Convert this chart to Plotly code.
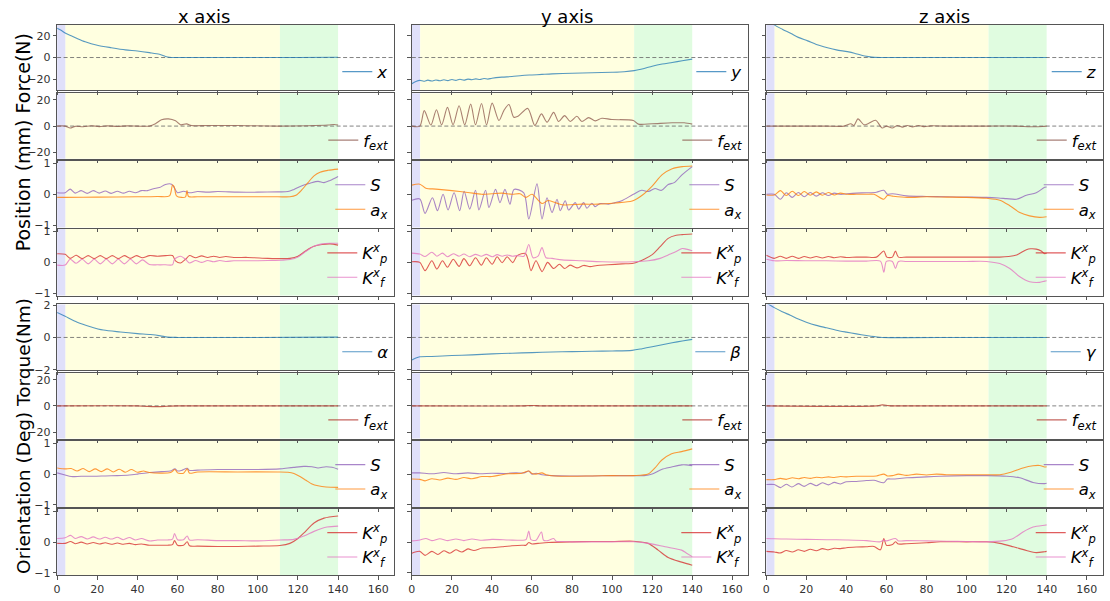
import plotly.graph_objects as go

# ======================= DATA =======================
PHASE_EDGES = [0, 4.2, 111, 140]          # blue | yellow | green phases
X_RANGE = [0, 168]
X_TICKS = [0, 20, 40, 60, 80, 100, 120, 140, 160]
COL_TITLES = ["x axis", "y axis", "z axis"]

ROW_YRANGE = [[-30.2, 30.2], [-25, 25], [-1.08, 1.08], [-1.08, 1.08],
              [-2.05, 2.05], [-25, 25], [-1.08, 1.08], [-1.08, 1.08]]
ROW_YTICKS = [[-20, 0, 20], [-20, 0, 20], [-1, 0, 1], [-1, 0, 1],
              [-2, 0, 2], [-20, 0, 20], [-1, 0, 1], [-1, 0, 1]]
ROW_ZERO = [True, True, False, False, True, True, False, False]

# ---- column x ----
x_pos_t = [0, 2, 4, 7, 10, 14, 20, 27, 34, 40, 46, 51, 54, 56, 60, 80, 100, 120, 140]
x_pos = [27, 25, 22.5, 20, 17.5, 14.5, 11.3, 9, 7, 6, 4.5, 3, 1, 0.2, 0, 0, 0, 0, 0.2]
x_fext_t = [0, 4, 6.5, 9, 13, 17, 21, 25, 30, 35, 40, 46, 49, 52, 55.5, 59, 61.5, 64.5, 67, 75, 90, 110, 125, 135, 138, 140]
x_fext = [0, 0, -1.5, -0.2, -0.5, 0.3, -0.4, 0.2, -0.3, 0.2, 0, 0, 1.8, 4.8, 5.5, 4, 1, 1.7, 0.4, 0.5, 0.4, 0, 0.3, 0.8, 1.2, 0.8]
x_S_t = [0, 4, 6.5, 9, 12, 15, 18, 21, 24, 27, 30, 33, 36, 39, 42, 45, 48, 51, 54, 57, 58.5, 60, 63, 66, 70, 75, 80, 90, 100, 110, 115, 118, 122, 126, 130, 133, 136, 140]
x_S = [0.05, 0.05, 0.17, 0.04, 0.12, 0.03, 0.12, 0.04, 0.11, 0.03, 0.1, 0.04, 0.1, 0.05, 0.12, 0.12, 0.18, 0.22, 0.32, 0.33, 0.2, 0.05, 0.1, 0.05, 0.09, 0.07, 0.09, 0.07, 0.07, 0.08, 0.09, 0.16, 0.28, 0.36, 0.42, 0.38, 0.45, 0.58]
x_ax_t = [0, 4, 20, 40, 50, 56, 57.5, 58.3, 59.5, 62, 64, 64.7, 65.5, 70, 90, 110, 116, 119, 122, 125, 128, 131, 135, 140]
x_ax = [-0.1, -0.1, -0.09, -0.08, -0.07, -0.05, 0.3, 0.25, -0.05, -0.1, -0.08, 0.12, -0.07, -0.08, -0.08, -0.08, -0.08, -0.03, 0.15, 0.38, 0.6, 0.72, 0.78, 0.82]
x_Kp_t = [0, 4, 6.5, 9.5, 12.5, 15.5, 18.5, 21.5, 24.5, 27.5, 30.5, 33.5, 36.5, 39.5, 42.5, 46, 50, 54, 57.5, 59, 61.5, 64, 66, 69, 72, 75, 78, 81, 84, 88, 95, 105, 112, 116, 120, 124, 128, 132, 136, 140]
x_Kp = [0.28, 0.26, 0.13, 0.23, 0.12, 0.22, 0.12, 0.22, 0.12, 0.22, 0.12, 0.22, 0.13, 0.22, 0.15, 0.22, 0.2, 0.22, 0.22, 0.05, -0.02, 0.1, 0.22, 0.15, 0.21, 0.16, 0.2, 0.16, 0.19, 0.16, 0.16, 0.13, 0.12, 0.13, 0.2, 0.38, 0.52, 0.58, 0.6, 0.56]
x_Kf_t = [0, 4, 6.5, 9.5, 12.5, 15.5, 18.5, 21.5, 24.5, 27.5, 30.5, 33.5, 36.5, 39.5, 42.5, 46, 50, 54, 57.5, 58.5, 61.5, 64, 66, 69, 72, 75, 78, 81, 84, 88, 95, 105, 112, 116, 120, 124, 128, 132, 136, 140]
x_Kf = [-0.09, -0.09, 0.1, -0.03, 0.1, -0.05, 0.1, -0.05, 0.1, -0.05, 0.1, -0.05, 0.1, -0.05, 0.08, -0.07, -0.08, -0.08, -0.08, 0.1, 0.2, 0.1, -0.02, 0.06, 0.0, 0.06, 0.02, 0.06, 0.03, 0.05, 0.05, 0.06, 0.07, 0.09, 0.17, 0.36, 0.52, 0.6, 0.62, 0.62]
x_ori_t = [0, 4, 10, 16.6, 23, 31.5, 40, 46.5, 51.5, 55, 60, 100, 140]
x_ori = [1.55, 1.31, 0.95, 0.67, 0.46, 0.34, 0.24, 0.18, 0.1, 0.02, 0, 0, 0.02]
x_tq_t = [0, 40, 45, 50, 55, 60, 140]
x_tq = [0, 0, -0.4, -0.6, -0.3, 0, 0]
x_oS_t = [0, 4, 7, 12, 18, 24, 30, 36, 40, 46, 52, 56.5, 58.7, 60, 62, 64.8, 66, 70, 80, 100, 111, 115, 118, 123, 127, 130, 134, 137, 140]
x_oS = [0.04, -0.03, -0.08, -0.07, -0.07, -0.06, -0.05, -0.03, 0.0, 0.05, 0.08, 0.1, 0.17, 0.1, 0.12, 0.19, 0.12, 0.13, 0.15, 0.15, 0.17, 0.2, 0.22, 0.25, 0.24, 0.2, 0.24, 0.22, 0.16]
x_oax_t = [0, 4, 7, 10, 13, 16, 19, 22, 25, 28, 31, 34, 37, 40, 43, 46, 56.5, 58.7, 60, 63, 64.8, 66, 70, 90, 110, 115, 118, 121, 124, 127, 130, 134, 140]
x_oax = [0.2, 0.17, 0.18, 0.1, 0.18, 0.08, 0.17, 0.08, 0.17, 0.07, 0.16, 0.06, 0.15, 0.06, 0.1, 0.05, 0.05, 0.15, 0.04, 0.03, 0.17, 0.03, 0.07, 0.07, 0.07, 0.06, 0.02, -0.08, -0.2, -0.32, -0.38, -0.42, -0.43]
x_oKp_t = [0, 4, 6.7, 9, 12, 15, 18, 21, 24, 27, 30, 33, 36, 39, 42, 46, 50, 55, 57.5, 58.5, 60, 63, 64.8, 66, 70, 80, 90, 100, 111, 116, 120, 123, 128, 133, 140]
x_oKp = [-0.04, -0.04, 0.02, -0.05, 0.0, -0.06, -0.01, -0.06, -0.02, -0.07, -0.03, -0.07, -0.04, -0.08, -0.06, -0.1, -0.1, -0.1, -0.08, 0.05, -0.1, -0.1, 0.01, -0.12, -0.13, -0.14, -0.14, -0.13, -0.11, -0.04, 0.12, 0.3, 0.62, 0.78, 0.85]
x_oKf_t = [0, 4, 6.7, 9, 12, 15, 18, 21, 24, 27, 30, 33, 36, 39, 42, 46, 50, 55, 57.5, 58.5, 60, 63, 64.8, 66, 70, 80, 90, 100, 111, 118, 123, 128, 134.5, 140]
x_oKf = [0.12, 0.14, 0.22, 0.12, 0.18, 0.1, 0.17, 0.1, 0.16, 0.1, 0.16, 0.08, 0.15, 0.07, 0.12, 0.04, 0.07, 0.07, 0.1, 0.28, 0.08, 0.08, 0.2, 0.07, 0.08, 0.05, 0.05, 0.04, 0.07, 0.09, 0.2, 0.35, 0.49, 0.52]

# ---- column y ----
y_pos_t = [0, 2, 4, 6, 8, 10, 12, 14, 16, 18, 20, 22, 24, 26, 28, 30, 32, 34, 36, 38, 40, 45, 50, 55, 60, 65, 70, 80, 90, 100, 106, 111, 116, 120, 125, 130, 135, 140]
y_pos = [-24, -22, -21, -21.8, -20.8, -21.6, -20.6, -21.4, -20.4, -21.2, -20.2, -21, -20, -20.8, -19.8, -20.4, -19.6, -20.2, -19.3, -19.8, -19, -18, -17.5, -16.5, -16, -15.5, -15, -14.5, -14, -13.5, -13, -12, -10, -8, -6, -4.5, -3, -1.5]
y_fext_t = [0, 4, 6.2, 9.5, 12.3, 14.9, 17.8, 20.6, 23.6, 26.4, 29.4, 31.8, 34.8, 37.3, 40.1, 43.5, 46, 48.5, 50.9, 53, 57.9, 61.4, 64.7, 67.5, 70.8, 73.3, 76.3, 79.1, 82.4, 84.9, 88.3, 91.6, 94.9, 99.9, 110.6, 113.1, 120, 130, 136, 140]
y_fext = [0, 0, 11.8, 0.8, 12.5, 1, 14.3, 1, 15.5, 1, 16.8, 1, 17.3, 1, 17.5, 4.3, 12, 16.5, 6.8, 7.5, 13.5, 0.5, 9.3, 3, 10.5, 3.5, 8, 3.5, 7.5, 3.5, 6.5, 4, 6, 5, 4.3, 1.5, 1.8, 2.5, 2.5, 1.5]
y_S_t = [0, 4, 6.6, 10.3, 12.8, 15.6, 18.1, 21.1, 23.9, 26.1, 28.9, 31.8, 33.5, 36.8, 38.5, 41.8, 44, 46.5, 49, 51, 55.9, 58.4, 62.5, 65, 67.5, 70, 72.5, 74.1, 76.6, 78.3, 81.6, 83.3, 85.8, 87.4, 89.9, 91.5, 94, 98.2, 101.5, 104.8, 110.6, 114.8, 118.1, 121.4, 124.7, 128, 131, 135, 140]
y_S = [-0.19, -0.15, -0.62, -0.11, -0.53, 0.0, -0.51, 0.05, -0.53, 0.1, -0.48, 0.13, -0.51, 0.13, -0.43, 0.16, -0.27, 0.16, -0.32, 0.16, 0.05, -0.8, 0.34, -0.8, -0.11, -0.59, -0.16, -0.53, -0.21, -0.51, -0.27, -0.48, -0.27, -0.45, -0.29, -0.4, -0.3, -0.32, -0.27, -0.21, 0.0, 0.13, 0.09, 0.19, 0.13, 0.32, 0.38, 0.64, 0.9]
y_ax_t = [0, 4, 7, 12, 20, 28, 35, 40, 45, 50, 54, 57, 60, 65, 68, 75, 85, 93, 101.5, 110, 115, 120, 125, 130, 135, 140]
y_ax = [0.3, 0.33, 0.2, 0.17, 0.12, 0.06, 0.0, 0.02, 0.04, 0.0, 0.02, -0.1, 0.0, -0.3, -0.2, -0.34, -0.32, -0.32, -0.28, -0.22, -0.03, 0.27, 0.64, 0.83, 0.9, 0.92]
y_Kp_t = [0, 4, 6.6, 10, 12.5, 15.3, 17.8, 20.7, 23.6, 26, 28.9, 31.8, 34.7, 37.2, 40.1, 42.6, 45.1, 47.6, 50.4, 52.6, 56.7, 58, 59.5, 62, 65, 67.8, 70.8, 73.7, 76.3, 79, 82.4, 85.8, 89, 92.5, 98, 105, 110.6, 116, 120, 124, 128, 132, 135, 140]
y_Kp = [0.02, 0.0, -0.27, 0.05, -0.22, 0.05, -0.16, 0.1, -0.13, 0.12, -0.11, 0.15, -0.09, 0.15, -0.06, 0.18, -0.01, 0.18, -0.01, 0.22, 0.29, 0.1, -0.27, 0.05, -0.3, 0.0, -0.2, -0.06, -0.2, -0.09, -0.18, -0.1, -0.14, -0.1, -0.08, -0.05, -0.03, 0.1, 0.25, 0.51, 0.78, 0.88, 0.9, 0.92]
y_Kf_t = [0, 4, 6.6, 10, 12.5, 15.3, 17.8, 20.7, 23.6, 26, 28.9, 31.8, 34.7, 37.2, 40.1, 42.6, 45.1, 47.6, 50.4, 52.6, 56, 58.4, 60.5, 63, 65, 67, 70, 75, 85, 95, 110.6, 118, 124, 128, 132, 135, 137, 140]
y_Kf = [0.3, 0.27, 0.19, 0.33, 0.2, 0.3, 0.18, 0.28, 0.2, 0.27, 0.18, 0.26, 0.2, 0.26, 0.18, 0.25, 0.2, 0.24, 0.2, 0.22, 0.2, 0.58, 0.15, 0.2, 0.48, 0.15, 0.13, 0.08, 0.05, 0.02, 0.02, 0.05, 0.13, 0.24, 0.35, 0.45, 0.43, 0.38]
y_ori_t = [0, 2, 4, 10, 20, 30, 40, 50, 60, 70, 80, 90, 100, 110, 115, 120, 125, 130, 135, 140]
y_ori = [-1.4, -1.28, -1.2, -1.18, -1.12, -1.08, -1.02, -0.98, -0.94, -0.9, -0.88, -0.86, -0.84, -0.8, -0.7, -0.58, -0.45, -0.33, -0.22, -0.12]
y_tq_t = [0, 55, 60, 65, 140]
y_tq = [0, 0, 0.3, 0, 0]
y_oS_t = [0, 4, 10, 16, 22, 28, 34, 40, 46, 52, 56, 58.4, 60, 62, 65, 70, 80, 90, 100, 110.6, 116, 120, 124.7, 129.7, 134.7, 137, 140]
y_oS = [0.04, 0.04, 0.01, 0.05, 0.01, 0.04, 0.01, 0.03, 0.02, 0.04, 0.04, 0.1, 0.0, 0.03, -0.02, -0.05, -0.06, -0.06, -0.05, -0.05, -0.05, 0.0, 0.15, 0.23, 0.3, 0.3, 0.27]
y_oax_t = [0, 4, 6.6, 10, 14, 18, 22, 26, 30, 35, 40, 45, 48.4, 55, 58.4, 60, 62, 65, 67, 71.7, 80, 90, 100, 110.6, 118, 121.4, 124.7, 129.7, 134.7, 140]
y_oax = [-0.16, -0.17, -0.22, -0.15, -0.19, -0.13, -0.17, -0.11, -0.15, -0.08, -0.08, -0.02, 0.01, 0.03, 0.1, 0.02, 0.0, 0.04, -0.02, -0.06, -0.07, -0.06, -0.05, -0.05, 0.0, 0.2, 0.45, 0.66, 0.73, 0.82]
y_oKp_t = [0, 4, 6.6, 10, 13, 16, 19, 22, 25, 28, 31, 35.2, 40, 45, 50, 55, 57, 58.4, 60, 63, 68.3, 80, 90, 100, 110.6, 118, 123, 128, 134.7, 140]
y_oKp = [-0.36, -0.3, -0.43, -0.3, -0.4, -0.28, -0.36, -0.25, -0.32, -0.22, -0.27, -0.19, -0.18, -0.15, -0.12, -0.1, -0.1, -0.01, -0.06, -0.04, -0.01, 0.01, 0.02, 0.02, 0.03, -0.04, -0.26, -0.5, -0.65, -0.75]
y_oKf_t = [0, 4, 7, 10, 14, 18, 22, 26, 30, 35, 40, 48.4, 55, 57, 58.4, 59.5, 62, 64.7, 65.8, 68, 70.8, 72, 75, 80, 90, 100, 110.6, 118, 126.4, 134.7, 137, 140]
y_oKf = [0.04, 0.07, 0.12, 0.05, 0.11, 0.05, 0.1, 0.05, 0.1, 0.06, 0.09, 0.07, 0.06, 0.08, 0.36, 0.08, 0.06, 0.33, 0.06, 0.05, 0.12, 0.03, 0.02, 0.01, 0.01, 0.01, 0.01, -0.04, -0.15, -0.26, -0.35, -0.47]

# ---- column z ----
z_pos_t = [0, 2, 4, 8, 12.4, 16, 20.7, 25, 30.6, 35, 40.5, 44, 48, 51, 54, 60, 100, 140]
z_pos = [36, 33, 30, 26, 22, 18.5, 15.3, 12, 9, 7, 5.4, 4, 1.8, 0.8, 0.1, 0, 0, 0]
z_fext_t = [0, 30, 38.9, 42.2, 43.8, 45.8, 48.8, 51, 54.6, 57.9, 60, 62.9, 65.4, 68, 70.5, 73, 76, 79, 82, 90, 110, 125, 132, 138, 140]
z_fext = [0, 0, 0, 1.75, 0.5, 5.5, 1, 2, 4.5, -1.5, 0, -1.5, 0.5, -0.8, 0.5, -0.6, 0.4, -0.4, 0.2, 0, 0, 0, -0.5, -0.3, 0]
z_S_t = [0, 4, 7.1, 10, 13, 16, 19, 22, 25, 28, 31, 34, 37, 40.5, 45, 50, 55, 58.7, 60.5, 63, 70, 80, 90, 100, 110, 116, 120, 124.9, 129.9, 134.8, 139, 140]
z_S = [0.0, 0.0, -0.16, 0.05, -0.1, 0.06, -0.08, 0.06, -0.06, 0.05, -0.04, 0.04, 0.0, 0.02, 0.04, 0.05, 0.07, 0.13, 0.0, 0.02, -0.05, -0.07, -0.08, -0.09, -0.1, -0.12, -0.14, -0.16, -0.03, 0.05, 0.23, 0.24]
z_ax_t = [0, 4, 7.1, 10, 13, 16, 19, 22, 25, 28, 31, 34, 37, 40.5, 45, 50, 53.8, 58.7, 60.5, 63, 70.3, 80, 90, 100, 110, 116.6, 121.6, 126.6, 131.5, 136.5, 140]
z_ax = [-0.02, -0.02, 0.12, -0.04, 0.1, -0.04, 0.09, -0.03, 0.08, -0.03, 0.06, -0.02, 0.04, 0.0, 0.0, 0.0, 0.0, -0.16, -0.04, -0.06, -0.1, -0.08, -0.09, -0.1, -0.13, -0.19, -0.37, -0.59, -0.7, -0.75, -0.73]
z_Kp_t = [0, 4, 7, 10, 13, 16, 19, 22, 25, 28, 31, 34, 37, 40, 45, 50, 55, 58.7, 60.2, 63, 64.5, 66, 70, 80, 90, 100, 110, 116.6, 121, 125, 129.9, 132, 134.8, 137.3, 139, 140]
z_Kp = [0.23, 0.13, 0.2, 0.13, 0.2, 0.13, 0.19, 0.14, 0.19, 0.14, 0.19, 0.15, 0.18, 0.16, 0.17, 0.17, 0.17, 0.37, 0.17, 0.17, 0.37, 0.17, 0.17, 0.17, 0.17, 0.17, 0.17, 0.17, 0.19, 0.24, 0.41, 0.44, 0.43, 0.37, 0.28, 0.3]
z_Kf_t = [0, 4, 10, 20, 30, 40, 50, 57, 58.7, 60, 63, 64.5, 66, 70, 80, 90, 100, 110, 116.6, 121.6, 126.6, 131.5, 136.5, 139, 140]
z_Kf = [0.1, 0.05, 0.06, 0.05, 0.05, 0.04, 0.04, 0.04, -0.32, 0.03, 0.03, -0.2, 0.03, 0.03, 0.03, 0.03, 0.03, 0.03, -0.04, -0.2, -0.47, -0.63, -0.65, -0.61, -0.6]
z_ori_t = [0, 2, 4, 8, 12, 16, 20, 25, 30, 35, 40, 45, 50, 54, 58, 100, 140]
z_ori = [2.15, 2.0, 1.85, 1.6, 1.38, 1.15, 0.95, 0.75, 0.6, 0.45, 0.33, 0.22, 0.12, 0.05, 0.0, 0.0, 0.0]
z_tq_t = [0, 55, 58, 61, 64, 140]
z_tq = [0, 0, 0.8, 0.2, 0, 0]
z_oS_t = [0, 4, 7.1, 10, 12.8, 16, 18.9, 22, 25, 28, 31, 34, 37.1, 40, 45, 50, 53.8, 58.7, 60.5, 63, 70.3, 80, 86.9, 100, 110, 120, 126.6, 133.2, 139, 140]
z_oS = [-0.34, -0.34, -0.44, -0.33, -0.42, -0.31, -0.4, -0.3, -0.38, -0.28, -0.35, -0.27, -0.32, -0.25, -0.24, -0.21, -0.2, -0.28, -0.16, -0.16, -0.12, -0.09, -0.07, -0.05, -0.05, -0.07, -0.12, -0.27, -0.31, -0.3]
z_oax_t = [0, 4, 7, 10, 13, 16, 19, 22, 25, 28, 31, 34, 37, 40, 45, 50, 55, 58.7, 60.5, 63, 66, 70, 75, 80, 85, 90, 100, 110, 116.6, 121.6, 128.2, 133.2, 136.5, 139, 140]
z_oax = [-0.18, -0.18, -0.14, -0.17, -0.12, -0.15, -0.11, -0.14, -0.1, -0.12, -0.09, -0.11, -0.08, -0.09, -0.07, -0.07, -0.06, 0.0, -0.06, -0.05, 0.0, -0.04, 0.0, -0.03, 0.0, -0.02, -0.02, -0.02, -0.02, 0.05, 0.2, 0.27, 0.28, 0.23, 0.24]
z_oKp_t = [0, 4, 7.1, 10, 13, 16, 19, 22, 25, 28, 31, 34, 37.1, 40, 45, 50, 53.8, 57, 58.7, 60, 63, 64.5, 66, 70, 80, 86.9, 100, 110, 116.6, 123.3, 129.9, 134.8, 139, 140]
z_oKp = [-0.3, -0.32, -0.35, -0.27, -0.32, -0.25, -0.3, -0.23, -0.28, -0.21, -0.25, -0.2, -0.21, -0.18, -0.16, -0.15, -0.14, -0.25, 0.12, -0.1, -0.08, 0.01, -0.06, -0.05, -0.02, 0.01, 0.01, 0.01, -0.04, -0.15, -0.27, -0.34, -0.31, -0.3]
z_oKf_t = [0, 4, 10, 20, 30, 40, 50, 57, 58.7, 60, 64.5, 66, 70, 80, 90, 100, 110, 118, 123.3, 128.2, 133.2, 139, 140]
z_oKf = [0.12, 0.11, 0.1, 0.09, 0.08, 0.07, 0.05, 0.01, 0.07, 0.04, 0.12, 0.04, 0.05, 0.04, 0.03, 0.02, 0.01, 0.04, 0.12, 0.33, 0.49, 0.55, 0.56]

# ---- labels ----
LBL_POS = ["<i>x</i>", "<i>y</i>", "<i>z</i>"]
LBL_ORI = ["<i>α</i>", "<i>β</i>", "<i>γ</i>"]
LBL_FEXT = "<i>f</i><sub><i>ext</i></sub>"
LBL_S = "<i>S</i>"
LBL_AX = "<i>a</i><sub><i>x</i></sub>"
LBL_KP = "<i>K</i><sup><i>x</i></sup><sub><i>p</i></sub>"
LBL_KF = "<i>K</i><sup><i>x</i></sup><sub><i>f</i></sub>"
YLABEL_TOP = "Position (mm) Force(N)"
YLABEL_BOT = "Orientation (Deg) Torque(Nm)"

# ======================= STYLE / LAYOUT =======================
W, H = 1110, 601
FONT = "DejaVu Sans"
COL_PX = [(53.3, 391.7), (409.3, 747.0), (765.0, 1102.7)]
ROW_PX = [(20, 87), (90, 156.7), (159, 226.7), (228.3, 296),
          (305, 372.3), (375, 441.7), (444, 511.7), (513.3, 581)]
TITLE_PX = [201, 565, 944]

C_POS = "rgba(31,119,180,0.75)"
C_FEXT = "rgba(140,86,75,0.75)"
C_TQ = "rgba(178,50,40,0.75)"
C_S = "rgba(148,103,189,0.8)"
C_AX = "rgba(255,127,14,0.8)"
C_KP = "rgba(214,39,40,0.75)"
C_KF = "rgba(227,119,194,0.8)"
PHASE_COLORS = ["rgb(224,224,250)", "rgb(255,255,224)", "rgb(224,252,224)"]
FRAME = "#555555"

cols = []
for p, ptag in enumerate(["x", "y", "z"]):
    g = globals()
    cols.append([
        [(g[f"{ptag}_pos_t"], g[f"{ptag}_pos"], C_POS, LBL_POS[p])],
        [(g[f"{ptag}_fext_t"], g[f"{ptag}_fext"], C_FEXT, LBL_FEXT)],
        [(g[f"{ptag}_S_t"], g[f"{ptag}_S"], C_S, LBL_S), (g[f"{ptag}_ax_t"], g[f"{ptag}_ax"], C_AX, LBL_AX)],
        [(g[f"{ptag}_Kp_t"], g[f"{ptag}_Kp"], C_KP, LBL_KP), (g[f"{ptag}_Kf_t"], g[f"{ptag}_Kf"], C_KF, LBL_KF)],
        [(g[f"{ptag}_ori_t"], g[f"{ptag}_ori"], C_POS, LBL_ORI[p])],
        [(g[f"{ptag}_tq_t"], g[f"{ptag}_tq"], C_TQ, LBL_FEXT)],
        [(g[f"{ptag}_oS_t"], g[f"{ptag}_oS"], C_S, LBL_S), (g[f"{ptag}_oax_t"], g[f"{ptag}_oax"], C_AX, LBL_AX)],
        [(g[f"{ptag}_oKp_t"], g[f"{ptag}_oKp"], C_KP, LBL_KP), (g[f"{ptag}_oKf_t"], g[f"{ptag}_oKf"], C_KF, LBL_KF)],
    ])

fig = go.Figure()
layout = dict(width=W, height=H, margin=dict(l=0, r=0, t=0, b=0),
              paper_bgcolor="white", plot_bgcolor="white",
              font=dict(family=FONT, size=11, color="#333"),
              showlegend=True, shapes=[], annotations=[])

for r in range(8):
    for c in range(3):
        k = r * 3 + c + 1
        sx = "" if k == 1 else str(k)
        xa, ya = "x" + sx, "y" + sx
        lg = "legend" + sx
        x0p, x1p = COL_PX[c]
        y0p, y1p = ROW_PX[r]
        layout["xaxis" + sx] = dict(
            domain=[x0p / W, x1p / W], anchor=ya, range=X_RANGE,
            tickvals=X_TICKS, showticklabels=(r == 7), ticks="outside",
            ticklen=3.5, tickcolor=FRAME, showgrid=False, zeroline=False,
            showline=True, mirror=True, linecolor=FRAME, linewidth=1,
            tickfont=dict(size=11, color="#333"))
        layout["yaxis" + sx] = dict(
            domain=[1 - y1p / H, 1 - y0p / H], anchor=xa, range=ROW_YRANGE[r],
            tickvals=ROW_YTICKS[r], showticklabels=(c == 0), ticks="outside",
            ticklen=3.5, tickcolor=FRAME, showgrid=False, zeroline=False,
            showline=True, mirror=True, linecolor=FRAME, linewidth=1,
            tickfont=dict(size=11, color="#333"))
        for i in range(3):
            layout["shapes"].append(dict(
                type="rect", xref=xa, yref=ya + " domain",
                x0=PHASE_EDGES[i], x1=PHASE_EDGES[i + 1], y0=0, y1=1,
                fillcolor=PHASE_COLORS[i], line=dict(width=0), layer="below"))
        if ROW_ZERO[r]:
            layout["shapes"].append(dict(
                type="line", xref=xa + " domain", yref=ya, x0=0, x1=1, y0=0, y1=0,
                line=dict(color="rgba(100,100,100,0.8)", width=1, dash="4px,2.5px"),
                layer="below"))
        for (t, v, col, lab) in cols[c][r]:
            fig.add_trace(go.Scatter(x=t, y=v, mode="lines", name=lab,
                                     line=dict(color=col, width=1.1,
                                               shape="spline", smoothing=0.8),
                                     xaxis=xa, yaxis=ya, legend=lg,
                                     hoverinfo="skip"))
        layout[lg] = dict(x=(x1p - 1) / W, xanchor="right",
                          y=1 - (y1p - 1) / H, yanchor="bottom",
                          bgcolor="rgba(0,0,0,0)", borderwidth=0,
                          font=dict(family=FONT, size=16.5, color="black"),
                          tracegroupgap=0, itemclick=False)

for c in range(3):
    layout["annotations"].append(dict(
        text=COL_TITLES[c], x=TITLE_PX[c] / W, y=1 - 12 / H, xref="paper", yref="paper",
        showarrow=False, xanchor="center", yanchor="middle",
        font=dict(family=FONT, size=18, color="black")))
layout["annotations"].append(dict(
    text=YLABEL_TOP, x=20 / W, y=1 - 140 / H, xref="paper", yref="paper",
    showarrow=False, textangle=-90, xanchor="center", yanchor="middle",
    font=dict(family=FONT, size=19, color="black")))
layout["annotations"].append(dict(
    text=YLABEL_BOT, x=20 / W, y=1 - 439 / H, xref="paper", yref="paper",
    showarrow=False, textangle=-90, xanchor="center", yanchor="middle",
    font=dict(family=FONT, size=18.5, color="black")))

fig.update_layout(**layout)
fig.write_html("out.html")
